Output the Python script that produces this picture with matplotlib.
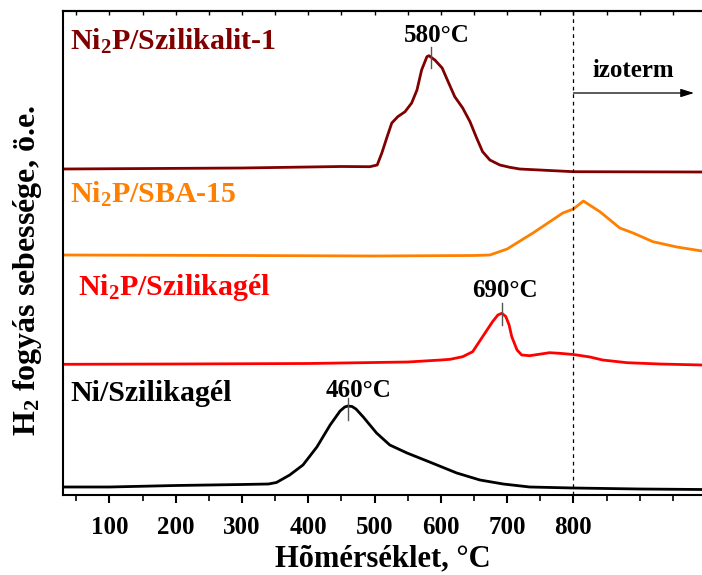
import matplotlib
matplotlib.use("Agg")
import matplotlib.pyplot as plt
from matplotlib.ticker import FixedLocator, NullFormatter

# TPR curves (temperature in °C, signal in arb. units)
ni_silica_t = [30, 100, 200, 300, 340, 352, 372, 392, 413, 433, 448, 455, 460, 466, 472, 483,
               503, 523, 549, 583, 624, 659, 694, 734, 800, 900, 994]
ni_silica_h = [8, 8, 9.5, 10.5, 11, 12.5, 20, 30, 48, 70, 84, 88, 89, 88.5, 86, 78,
               62, 50, 42, 33, 22, 15, 11, 8, 7, 6, 5.5]

ni2p_silica_t = [30, 200, 400, 550, 600, 614, 633, 648, 663, 678, 686, 692, 698, 703, 707,
                 715, 722, 734, 764, 779, 800, 825, 844, 881, 930, 994]
ni2p_silica_h = [130.7, 131, 131.5, 133, 135, 135.7, 138.3, 143.3, 158.3, 173.3, 180, 181.7, 178.5, 170, 158.3,
                 145, 140, 139.3, 142.3, 141.7, 140.5, 138, 135, 132.3, 131, 130]

ni2p_sba_t = [30, 300, 500, 650, 674, 700, 739, 784, 800, 815, 840, 870, 890, 920, 956, 994]
ni2p_sba_h = [240, 239.5, 239, 239.5, 240, 246, 262, 282, 286, 294, 283.3, 267, 262, 253.3, 248, 244]

ni2p_silicalite_t = [30, 300, 450, 493, 504, 511, 519, 526, 535, 546, 556, 564, 571, 579, 582,
                     591, 602, 611, 621, 633, 644, 654, 663, 674, 689, 704, 719, 800, 994]
ni2p_silicalite_h = [326, 327, 328.5, 328.3, 330, 342, 358.3, 372, 378.3, 383.3, 392, 405, 425, 438.3, 439.3,
                     435, 427, 413.3, 398.3, 387, 373.3, 357, 343.3, 335, 330, 327.7, 326, 323.3, 323]

series_labels = ["Ni/Szilikagél", "Ni$_2$P/Szilikagél", "Ni$_2$P/SBA-15", "Ni$_2$P/Szilikalit-1"]
series_colors = ["black", "#ff0000", "#ff8000", "#800000"]

peak_temps = [460, 692, 585]
peak_labels = ["460°C", "690°C", "580°C"]

major_ticks = [100, 200, 300, 400, 500, 600, 700, 800]
minor_ticks = [50, 150, 250, 350, 450, 550, 650, 750, 850, 900, 950]

plt.rcParams["font.family"] = "Liberation Serif"
plt.rcParams["font.weight"] = "bold"
plt.rcParams["mathtext.fontset"] = "custom"
plt.rcParams["mathtext.rm"] = "Liberation Serif:bold"
plt.rcParams["mathtext.it"] = "Liberation Serif:bold"
plt.rcParams["mathtext.bf"] = "Liberation Serif:bold"

fig = plt.figure(figsize=(7.02, 5.75), dpi=100)
ax = fig.add_axes([63 / 702, 80 / 575, 1 - 63 / 702, 484 / 575])

curves = [(ni_silica_t, ni_silica_h), (ni2p_silica_t, ni2p_silica_h),
          (ni2p_sba_t, ni2p_sba_h), (ni2p_silicalite_t, ni2p_silicalite_h)]
for (t, h), c in zip(curves, series_colors):
    ax.plot(t, h, color=c, lw=2.0, solid_joinstyle="round", solid_capstyle="round")

ax.set_xlim(30, 994)
ax.set_ylim(0, 484)

# series names
label_pos = [(40.6, 94), (52.6, 200), (40.6, 292), (40.6, 445)]
for (x, y), lab, c in zip(label_pos, series_labels, series_colors):
    ax.text(x, y, lab, color=c, fontsize=21.5, fontweight="bold", va="baseline", ha="left")

# peak maxima: short tick + temperature
peak_marks = [(75, 97), (170, 192), (427, 448)]
peak_text_pos = [(476, 98.3), (697, 198.3), (594, 453)]
for tp, (y0, y1), (tx, ty), lab in zip(peak_temps, peak_marks, peak_text_pos, peak_labels):
    ax.plot([tp, tp], [y0, y1], color="#555555", lw=1.0)
    ax.text(tx, ty, lab, fontsize=18, fontweight="bold", ha="center", va="baseline")

# isotherm section
ax.axvline(800, color="black", lw=0.9, linestyle=(0, (3, 3)))
ax.text(891, 418.3, "izoterm", fontsize=18, fontweight="bold", ha="center", va="baseline")
ax.annotate("", xy=(982, 402), xytext=(800, 402),
            arrowprops=dict(arrowstyle="-|>,head_length=0.8,head_width=0.25",
                            color="black", lw=0.9, shrinkA=0, shrinkB=0))

# axes styling
for s in ["left", "bottom", "top"]:
    ax.spines[s].set_linewidth(1.5)
ax.spines["right"].set_visible(False)
ax.set_yticks([])
ax.xaxis.set_major_locator(FixedLocator(major_ticks))
ax.xaxis.set_minor_locator(FixedLocator(minor_ticks))
ax.tick_params(axis="x", which="major", direction="out", length=6, width=1.5,
               labelsize=18, pad=9)
ax.tick_params(axis="x", which="minor", direction="out", length=4, width=1.2)

top = ax.secondary_xaxis("top")
top.xaxis.set_major_locator(FixedLocator(major_ticks + minor_ticks))
top.xaxis.set_major_formatter(NullFormatter())
top.tick_params(direction="in", length=3, width=1.0)
top.spines["top"].set_linewidth(1.5)

fig.text(383 / 702, 1 - 566 / 575, "Hõmérséklet, °C", fontsize=22, fontweight="bold",
         ha="center", va="baseline")
fig.text(28 / 702, 1 - 270 / 575, "H$_2$ fogyás sebessége, ö.e.", fontsize=23,
         fontweight="bold", rotation=90, ha="center", va="center")

fig.savefig("out.png", dpi=100)
